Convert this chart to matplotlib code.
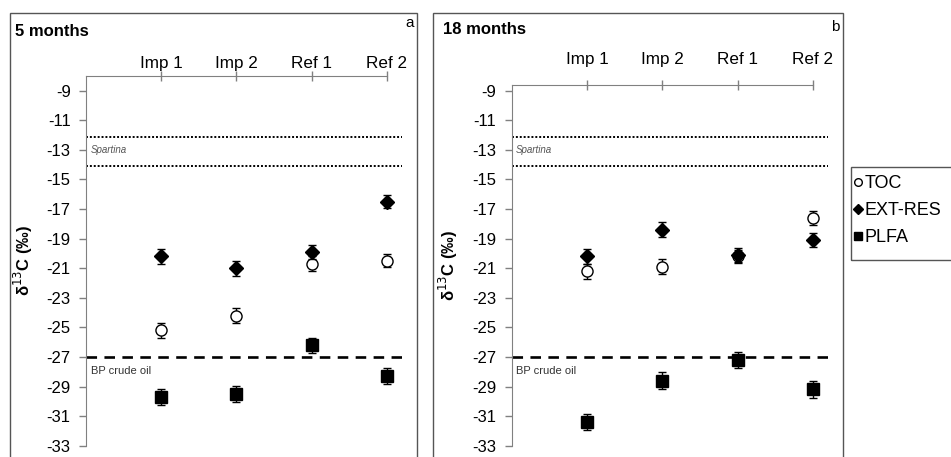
import matplotlib
matplotlib.use("Agg")
import matplotlib.pyplot as plt
from matplotlib.patches import Rectangle
from matplotlib.lines import Line2D

plt.rcParams['font.family'] = ['Liberation Sans', 'DejaVu Sans']

categories = ["Imp 1", "Imp 2", "Ref 1", "Ref 2"]
yticks = [-9, -11, -13, -15, -17, -19, -21, -23, -25, -27, -29, -31, -33]

toc_5 = [-25.2, -24.2, -20.7, -20.5]
toc_5_err = [0.5, 0.5, 0.5, 0.45]
ext_5 = [-20.2, -21.0, -19.9, -16.5]
ext_5_err = [0.5, 0.5, 0.5, 0.45]
plfa_5 = [-29.7, -29.5, -26.2, -28.3]
plfa_5_err = [0.55, 0.55, 0.5, 0.55]

toc_18 = [-21.2, -20.9, -20.2, -17.6]
toc_18_err = [0.5, 0.5, 0.45, 0.45]
ext_18 = [-20.2, -18.4, -20.1, -19.1]
ext_18_err = [0.5, 0.5, 0.45, 0.5]
plfa_18 = [-31.4, -28.6, -27.2, -29.2]
plfa_18_err = [0.55, 0.55, 0.55, 0.55]

spartina = [-12.1, -14.1]
bp_oil = -27.0

W, H = 951, 457
fig = plt.figure(figsize=(W / 100, H / 100), dpi=100)

def fx(px):
    return px / W

def fy(py):
    return 1 - py / H

# panel borders
for x0, x1 in [(10, 417), (433, 843)]:
    fig.add_artist(Rectangle((fx(x0), fy(470)), fx(x1 - x0), (470 - 13) / H,
                             transform=fig.transFigure, fill=False,
                             edgecolor='#555555', linewidth=1.0))

panels = [
    dict(left=86, right=402, top_val=-8.0, title="5 months", tag="a",
         title_xy=(15, 32), tag_xy=(405, 23), ylab_x=35, xpad=0.0,
         toc=(toc_5, toc_5_err), ext=(ext_5, ext_5_err), plfa=(plfa_5, plfa_5_err)),
    dict(left=511.7, right=828, top_val=-8.6, title="18 months", tag="b",
         title_xy=(443, 30), tag_xy=(831, 27), ylab_x=460, xpad=9.3,
         toc=(toc_18, toc_18_err), ext=(ext_18, ext_18_err), plfa=(plfa_18, plfa_18_err)),
]

px_per_unit = (445.7 - 90.7) / 24.0
y_bottom_px = 445.7

for p in panels:
    top_px = y_bottom_px - (p['top_val'] - (-33)) * px_per_unit
    ax = fig.add_axes([fx(p['left']), fy(y_bottom_px), fx(p['right'] - p['left']),
                       (y_bottom_px - top_px) / H])
    ax.set_xlim(0, 4.2)
    ax.set_ylim(-33, p['top_val'])
    ax.patch.set_alpha(0)
    for s in ['right', 'bottom']:
        ax.spines[s].set_visible(False)
    ax.spines['left'].set_color('#808080')
    ax.spines['top'].set_color('#808080')
    ax.spines['top'].set_bounds(0, 4)
    ax.xaxis.tick_top()
    x = [1, 2, 3, 4]
    ax.set_xticks(x)
    ax.set_xticklabels(categories, fontsize=12.3)
    ax.tick_params(axis='x', direction='inout', length=6.5, width=1, color='#808080',
                   pad=p['xpad'])
    ax.set_yticks(yticks)
    ax.set_yticklabels([str(v) for v in yticks], fontsize=12)
    ax.tick_params(axis='y', direction='out', length=5, width=1, color='#808080', pad=6)

    # reference lines
    for v in spartina:
        ax.axhline(v, xmin=0, xmax=1, color='black', linestyle=(0, (1, 1)), linewidth=1.4)
    ax.axhline(bp_oil, color='black', linestyle=(0, (4, 2.8)), linewidth=1.9)
    ax.text(0.06, -13.0, "Spartina", fontsize=7, style='italic', color='#555555',
            va='center', ha='left')
    ax.text(0.06, -27.95, "BP crude oil", fontsize=8, color='#333333',
            va='center', ha='left')

    ek = dict(ecolor='black', elinewidth=1.0, capsize=3, capthick=1.0, linestyle='none')
    ax.errorbar(x, p['toc'][0], yerr=p['toc'][1], marker='o', ms=8,
                mfc='white', mec='black', mew=1.0, zorder=3, **ek)
    ax.errorbar(x, p['ext'][0], yerr=p['ext'][1], marker='D', ms=7.5,
                mfc='black', mec='black', zorder=4, **ek)
    ax.errorbar(x, p['plfa'][0], yerr=p['plfa'][1], marker='s', ms=8.5,
                mfc='black', mec='black', zorder=5, **ek)

    ax.set_ylabel("δ$^{13}$C (‰)", fontsize=12, fontweight='bold')
    ax.yaxis.set_label_coords((p['ylab_x'] - p['left']) / (p['right'] - p['left']), 0.5)

    fig.text(fx(p['title_xy'][0]), fy(p['title_xy'][1]), p['title'], fontsize=12,
             fontweight='bold', ha='left', va='center')
    fig.text(fx(p['tag_xy'][0]), fy(p['tag_xy'][1]), p['tag'], fontsize=11,
             ha='left', va='center')

# legend frame (extends past the right edge, as in the reference)
fig.add_artist(Rectangle((fx(851), fy(260)), fx(140), (260 - 167) / H,
                         transform=fig.transFigure, fill=False,
                         edgecolor='#555555', linewidth=1.0))
handles = [
    Line2D([], [], marker='o', ms=5.5, mfc='white', mec='black', linestyle='none'),
    Line2D([], [], marker='D', ms=5.5, mfc='black', mec='black', linestyle='none'),
    Line2D([], [], marker='s', ms=5.5, mfc='black', mec='black', linestyle='none'),
]
leg = fig.legend(handles, ["TOC", "EXT-RES", "PLFA"], loc='upper left',
                 bbox_to_anchor=(fx(853), fy(175)), frameon=False,
                 fontsize=13, handlelength=0.5, handletextpad=0.15,
                 borderpad=0, labelspacing=0.55, borderaxespad=0)

fig.savefig("out.png", dpi=100)
